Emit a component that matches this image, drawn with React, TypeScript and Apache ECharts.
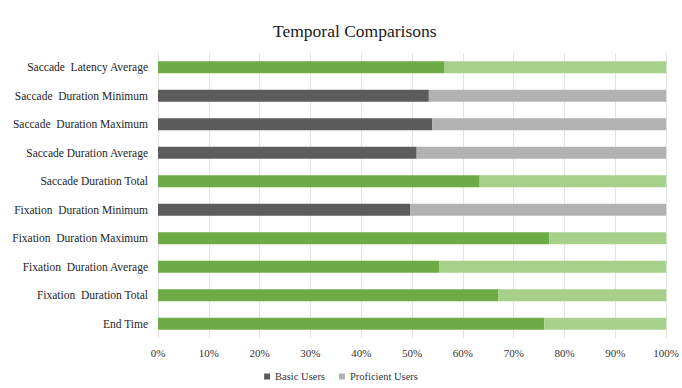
import React, { useEffect, useRef } from "react";
import * as echarts from "echarts";

const categories = [
  "Saccade  Latency Average",
  "Saccade  Duration Minimum",
  "Saccade  Duration Maximum",
  "Saccade Duration Average",
  "Saccade Duration Total",
  "Fixation  Duration Minimum",
  "Fixation  Duration Maximum",
  "Fixation  Duration Average",
  "Fixation  Duration Total",
  "End Time",
];
const basicUsers = [56.4, 53.3, 54.0, 50.9, 63.3, 49.6, 77.0, 55.4, 67.0, 76.0];
const proficientUsers = [43.6, 46.7, 46.0, 49.1, 36.7, 50.4, 23.0, 44.6, 33.0, 24.0];
const significant = [true, false, false, false, true, false, true, true, true, true];
const xTicks = [0, 10, 20, 30, 40, 50, 60, 70, 80, 90, 100];

const GREEN_DARK = "#6cab45";
const GREEN_LIGHT = "#a7d08b";
const GREY_DARK = "#5c5c5c";
const GREY_LIGHT = "#b2b2b2";
const FONT = "'Liberation Serif', 'DejaVu Serif', serif";

export default function App() {
  const ref = useRef<HTMLDivElement>(null);
  useEffect(() => {
    if (!ref.current) return;
    const chart = echarts.init(ref.current, undefined, { renderer: "svg" });
    chart.setOption({
      animation: false,
      backgroundColor: "#ffffff",
      title: {
        text: "Temporal Comparisons",
        left: 268,
        top: 17,
        textStyle: { fontFamily: FONT, fontSize: 17.5, fontWeight: "normal", color: "#1a1a1a" },
      },
      legend: {
        bottom: 1,
        left: "center",
        itemWidth: 6,
        itemHeight: 6,
        itemGap: 14,
        icon: "rect",
        textStyle: { fontFamily: FONT, fontSize: 10.5, color: "#333" },
        data: ["Basic Users", "Proficient Users"],
      },
      grid: { left: 158, right: 15, top: 53, bottom: 50, containLabel: false },
      xAxis: {
        type: "value",
        min: xTicks[0],
        max: xTicks[xTicks.length - 1],
        interval: 10,
        axisLine: { show: false },
        axisTick: { show: false },
        splitLine: { show: true, lineStyle: { color: "#e3e3e3", width: 1 } },
        axisLabel: {
          formatter: "{value}%",
          fontFamily: FONT,
          fontSize: 11,
          color: "#333",
          margin: 9,
        },
      },
      yAxis: {
        type: "category",
        inverse: true,
        data: categories,
        axisLine: { show: false },
        axisTick: { show: false },
        axisLabel: { fontFamily: FONT, fontSize: 11.5, color: "#1e1e1e", margin: 10 },
      },
      series: [
        {
          name: "Basic Users",
          type: "bar",
          stack: "total",
          barWidth: 12,
          itemStyle: { color: GREY_DARK },
          data: basicUsers.map((v, i) => ({
            value: v,
            itemStyle: { color: significant[i] ? GREEN_DARK : GREY_DARK },
          })),
        },
        {
          name: "Proficient Users",
          type: "bar",
          stack: "total",
          barWidth: 12,
          itemStyle: { color: GREY_LIGHT },
          data: proficientUsers.map((v, i) => ({
            value: v,
            itemStyle: { color: significant[i] ? GREEN_LIGHT : GREY_LIGHT },
          })),
        },
      ],
    });
    return () => chart.dispose();
  }, []);
  return (
    <div
      ref={ref}
      style={{ position: "fixed", left: 0, top: 0, width: 682, height: 388 }}
    />
  );
}
